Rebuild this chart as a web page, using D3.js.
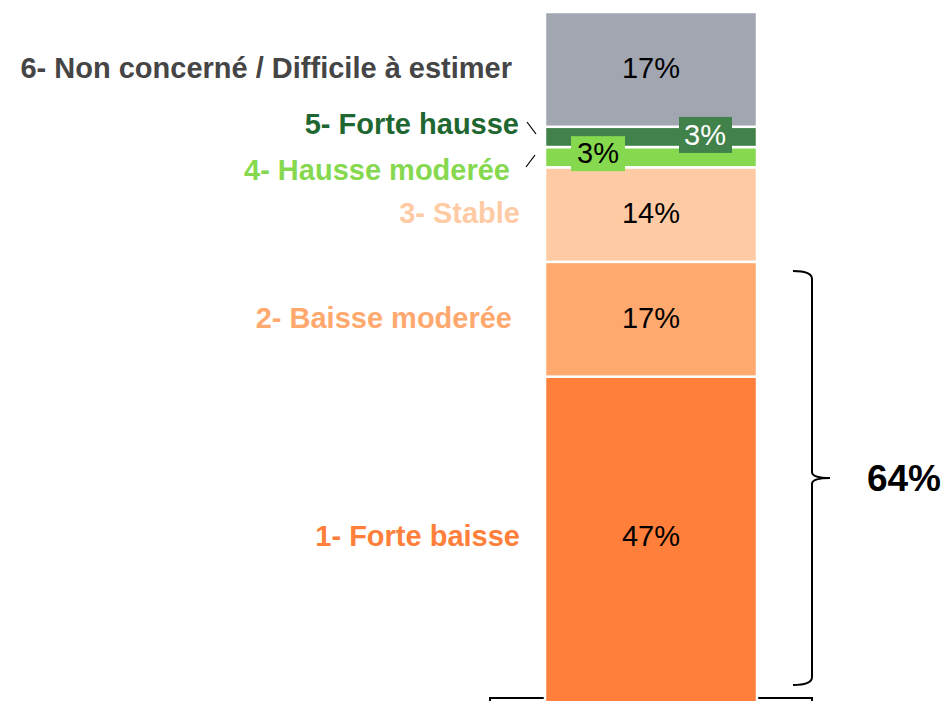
<!DOCTYPE html>
<html><head><meta charset="utf-8">
<script src="https://cdn.jsdelivr.net/npm/d3@7"></script>
<style>html,body{margin:0;padding:0;background:#fff;}svg{display:block;font-family:"Liberation Sans",Arial,sans-serif;}</style>
</head><body>
<svg id="chart" width="943" height="701"></svg>
<script>
const categories = ["1- Forte baisse","2- Baisse moderée","3- Stable","4- Hausse moderée","5- Forte hausse","6- Non concerné / Difficile à estimer"];
const values = [47,17,14,3,3,17];
const valueLabels = ["47%","17%","14%","3%","3%","17%"];
const fills = ["#FF7F3B","#FFA96F","#FFCBA5","#86D94F","#41824A","#A1A6B1"];
const labelColors = ["#FF7F3B","#FFA96F","#FFCBA5","#86D94F","#1E6730","#454545"];
const bracketTotal = "64%";

const W = 943, H = 701;
const svg = d3.select("#chart");
const y = d3.scaleLinear().domain([0, d3.sum(values)]).range([694, 12]);
const x = d3.scaleBand().domain(["all"]).range([545, 757]).padding(0);

let cum = 0;
const segs = values.map((v,i)=>{const s={i,v,y0:cum,y1:cum+v,cat:categories[i]};cum+=v;return s;});

// base frame line (top of a box, cropped)
svg.append("path").attr("d","M490,706V698H812V706").attr("fill","none").attr("stroke","#000").attr("stroke-width",2);

// bar segments (the first one runs past the bottom of the crop)
svg.selectAll("rect.seg").data(segs).join("rect")
  .attr("class","seg")
  .attr("x",x("all")).attr("width",x.bandwidth())
  .attr("y",d=>y(d.y1))
  .attr("height",d=>(d.i===0 ? H+4 : y(d.y0))-y(d.y1))
  .attr("fill",d=>fills[d.i]).attr("stroke","#fff").attr("stroke-width",2.5);

const mid = d=> (y(d.y0)+y(d.y1))/2;
const cx = x("all")+x.bandwidth()/2;
const FS = 29;

// value labels
segs.forEach(d=>{
  if(d.i===3){
    const g=svg.append("g");
    g.append("rect").attr("x",571).attr("y",mid(d)-21).attr("width",54).attr("height",35).attr("fill",fills[3]);
    g.append("text").attr("x",598).attr("y",mid(d)-2).attr("text-anchor","middle").attr("dominant-baseline","middle")
      .attr("font-size",FS).attr("fill","#000").text(valueLabels[3]);
  } else if(d.i===4){
    const g=svg.append("g");
    g.append("rect").attr("x",679).attr("y",mid(d)-20).attr("width",53).attr("height",36).attr("fill",fills[4]);
    g.append("text").attr("x",705).attr("y",mid(d)).attr("text-anchor","middle").attr("dominant-baseline","middle")
      .attr("font-size",FS).attr("fill","#fff").text(valueLabels[4]);
  } else {
    const cy = d.i===0 ? 537 : mid(d);
    svg.append("text").attr("x",cx).attr("y",cy+1).attr("text-anchor","middle").attr("dominant-baseline","middle")
      .attr("font-size",FS).attr("fill","#000").text(valueLabels[d.i]);
  }
});

// category labels
const labelX = [520,512,520,510,519,512];
const labelDy = [0,0,0,14,-12,0];
segs.forEach(d=>{
  const cy = d.i===0 ? 537 : mid(d);
  svg.append("text").attr("x",labelX[d.i]).attr("y",cy+labelDy[d.i]+1)
    .attr("text-anchor","end").attr("dominant-baseline","middle")
    .attr("font-size",FS).attr("font-weight","bold").attr("fill",labelColors[d.i]).text(d.cat);
});
// leader lines
svg.append("line").attr("x1",527).attr("y1",122).attr("x2",536).attr("y2",134).attr("stroke","#000").attr("stroke-width",1.2);
svg.append("line").attr("x1",526).attr("y1",167).attr("x2",535).attr("y2",155).attr("stroke","#000").attr("stroke-width",1.2);

// brace
const bTop = 271, bBot = 685, bx = 812, bMid = 478;
svg.append("path").attr("fill","none").attr("stroke","#000").attr("stroke-width",2)
  .attr("d",`M793,${bTop} Q${bx},${bTop} ${bx},${bTop+8} V${bMid-6} Q${bx},${bMid} ${830},${bMid} Q${bx},${bMid} ${bx},${bMid+6} V${bBot-8} Q${bx},${bBot} 793,${bBot}`);
svg.append("text").attr("x",904).attr("y",bMid+3).attr("text-anchor","middle").attr("dominant-baseline","middle")
  .attr("font-size",37).attr("font-weight","bold").attr("fill","#000").text(bracketTotal);
</script>
</body></html>
